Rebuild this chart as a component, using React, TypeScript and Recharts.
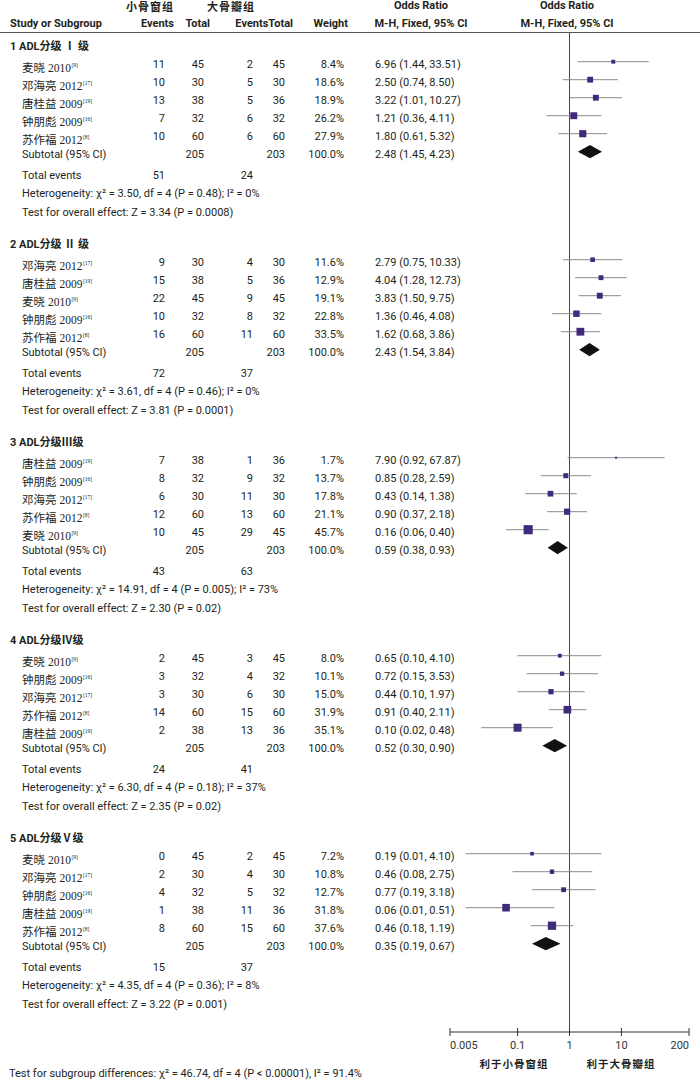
import React from "react";
import { ScatterChart, Scatter, XAxis, YAxis, ErrorBar, ReferenceLine, ReferenceArea } from "recharts";

// group titles
const GROUP_TITLES = ["1 ADL分级 Ⅰ 级", "2 ADL分级 Ⅱ 级", "3 ADL分级Ⅲ级", "4 ADL分级Ⅳ级", "5 ADL分级Ⅴ级"];

// studies, 5 per group, in plotted order
const STUDY_NAMES = [
  "麦晓", "邓海亮", "唐桂益", "钟朋彪", "苏作福",
  "邓海亮", "唐桂益", "麦晓", "钟朋彪", "苏作福",
  "唐桂益", "钟朋彪", "邓海亮", "苏作福", "麦晓",
  "麦晓", "钟朋彪", "邓海亮", "苏作福", "唐桂益",
  "麦晓", "邓海亮", "钟朋彪", "唐桂益", "苏作福",
];
const STUDY_YEARS = [
  2010, 2012, 2009, 2009, 2012,
  2012, 2009, 2010, 2009, 2012,
  2009, 2009, 2012, 2012, 2010,
  2010, 2009, 2012, 2012, 2009,
  2010, 2012, 2009, 2009, 2012,
];
const STUDY_REFS = [
  9, 17, 19, 16, 8,
  17, 19, 9, 16, 8,
  19, 16, 17, 8, 9,
  9, 16, 17, 8, 19,
  9, 17, 16, 19, 8,
];
const EXP_EVENTS = [11, 10, 13, 7, 10, 9, 15, 22, 10, 16, 7, 8, 6, 12, 10, 2, 3, 3, 14, 2, 0, 2, 4, 1, 8];
const EXP_TOTAL = [45, 30, 38, 32, 60, 30, 38, 45, 32, 60, 38, 32, 30, 60, 45, 45, 32, 30, 60, 38, 45, 30, 32, 38, 60];
const CTL_EVENTS = [2, 5, 5, 6, 6, 4, 5, 9, 8, 11, 1, 9, 11, 13, 29, 3, 4, 6, 15, 13, 2, 4, 5, 11, 15];
const CTL_TOTAL = [45, 30, 36, 32, 60, 30, 36, 45, 32, 60, 36, 32, 30, 60, 45, 45, 32, 30, 60, 36, 45, 30, 32, 36, 60];
const WEIGHTS = [8.4, 18.6, 18.9, 26.2, 27.9, 11.6, 12.9, 19.1, 22.8, 33.5, 1.7, 13.7, 17.8, 21.1, 45.7, 8.0, 10.1, 15.0, 31.9, 35.1, 7.2, 10.8, 12.7, 31.8, 37.6];
const ODDS = [6.96, 2.5, 3.22, 1.21, 1.8, 2.79, 4.04, 3.83, 1.36, 1.62, 7.9, 0.85, 0.43, 0.9, 0.16, 0.65, 0.72, 0.44, 0.91, 0.1, 0.19, 0.46, 0.77, 0.06, 0.46];
const CI_LOW = [1.44, 0.74, 1.01, 0.36, 0.61, 0.75, 1.28, 1.5, 0.46, 0.68, 0.92, 0.28, 0.14, 0.37, 0.06, 0.1, 0.15, 0.1, 0.4, 0.02, 0.01, 0.08, 0.19, 0.01, 0.18];
const CI_HIGH = [33.51, 8.5, 10.27, 4.11, 5.32, 10.33, 12.73, 9.75, 4.08, 3.86, 67.87, 2.59, 1.38, 2.18, 0.4, 4.1, 3.53, 1.97, 2.11, 0.48, 4.1, 2.75, 3.18, 0.51, 1.19];

// subtotals per group
const SUB_EXP_TOTAL = [205, 205, 205, 205, 205];
const SUB_CTL_TOTAL = [203, 203, 203, 203, 203];
const SUB_OR = [2.48, 2.43, 0.59, 0.52, 0.35];
const SUB_LOW = [1.45, 1.54, 0.38, 0.3, 0.19];
const SUB_HIGH = [4.23, 3.84, 0.93, 0.9, 0.67];
const TOTAL_EXP_EVENTS = [51, 72, 43, 24, 15];
const TOTAL_CTL_EVENTS = [24, 37, 63, 41, 37];
const HET_CHI = ["3.50", "3.61", "14.91", "6.30", "4.35"];
const HET_P = ["0.48", "0.46", "0.005", "0.18", "0.36"];
const HET_I2 = ["0%", "0%", "73%", "37%", "8%"];
const Z_VALUES = ["3.34", "3.81", "2.30", "2.35", "3.22"];
const Z_P = ["0.0008", "0.0001", "0.02", "0.02", "0.001"];

const X_TICKS = [0.005, 0.1, 1, 10, 200];
const X_TICK_LABELS = ["0.005", "0.1", "1", "10", "200"];

const W = 700;
const H = 1081;
const PLOT_LEFT = 450;
const PLOT_RIGHT = 689;
const PLOT_TOP = 33;
const AXIS_Y = 1032;
const LINE_H = 18;
const MARK_Y0 = 43.7; // pixel of line 0 for marks
const TEXT_SHIFT = 3.3; // text centre sits a little below the marks
const GROUP_SPAN = 11;
const TICK_SIZE = 4;
const TICK_MARGIN = 5;

const TEXT_COLOR = "#231f20";
const BOX_COLOR = "#3f2a7c";
const CI_COLOR = "#8a8a8a";
const NUM_FONT = '"Liberation Sans Narrow", Roboto, "Noto Sans", sans-serif';
const NAME_FONT = '"Liberation Serif", "Noto Sans CJK SC", serif';
const CJK_FONT = '"Noto Sans CJK SC", sans-serif';

const groupLine = (g: number) => g * GROUP_SPAN;
const studyLine = (i: number) => groupLine(Math.floor(i / 5)) + 1 + (i % 5);
const subLine = (g: number) => groupLine(g) + 6;
const textY = (line: number) => MARK_Y0 + TEXT_SHIFT + LINE_H * line;

const yMin = (PLOT_TOP - MARK_Y0) / LINE_H;
const yMax = (AXIS_Y - MARK_Y0) / LINE_H;

const studyData = STUDY_NAMES.map((_, i) => ({
  or: ODDS[i],
  y: studyLine(i),
  w: WEIGHTS[i],
  err: [ODDS[i] - CI_LOW[i], CI_HIGH[i] - ODDS[i]],
}));

const ci = (o: number, l: number, h: number) => `${o.toFixed(2)} (${l.toFixed(2)}, ${h.toFixed(2)})`;

type TProps = {
  x: number;
  y: number;
  anchor?: "start" | "end" | "middle";
  bold?: boolean;
  font?: string;
  size?: number;
  spacing?: number;
  children: React.ReactNode;
};

function T({ x, y, anchor = "start", bold, font = NUM_FONT, size = 11, spacing, children }: TProps) {
  const w = 300;
  const left = anchor === "start" ? x : anchor === "end" ? x - w : x - w / 2;
  return (
    <div
      style={{
        position: "absolute",
        left,
        top: y - 7,
        width: w,
        height: 14,
        lineHeight: "14px",
        fontFamily: font,
        fontSize: size,
        fontWeight: bold ? 700 : 400,
        letterSpacing: spacing,
        color: TEXT_COLOR,
        textAlign: anchor === "start" ? "left" : anchor === "end" ? "right" : "center",
        whiteSpace: "nowrap",
      }}
    >
      {children}
    </div>
  );
}

const AxisTick = (props: any) => {
  const { x, y, index } = props;
  const ay = y - TICK_SIZE - TICK_MARGIN;
  const anchor = index === 0 ? "start" : index === X_TICKS.length - 1 ? "end" : "middle";
  return (
    <g>
      <line x1={x} x2={x} y1={ay - 4} y2={ay + 4} stroke="#333" />
      <text x={x} y={y} dy="0.71em" textAnchor={anchor} fill="#333" fontSize={11} fontFamily="Roboto, sans-serif">
        {X_TICK_LABELS[index]}
      </text>
    </g>
  );
};

const Box = (props: any) => {
  const { cx, cy, payload } = props;
  const s = Math.max(2, 1.35 * Math.sqrt(payload.w));
  return <rect x={cx - s / 2} y={cy - s / 2} width={s} height={s} fill={BOX_COLOR} />;
};

const makeDiamond = (g: number) => (p: any) => {
  const { x, y, width, height } = p;
  const frac = (Math.log(SUB_OR[g]) - Math.log(SUB_LOW[g])) / (Math.log(SUB_HIGH[g]) - Math.log(SUB_LOW[g]));
  const cx = x + width * frac;
  const my = y + height / 2;
  return <polygon points={`${x},${my} ${cx},${y} ${x + width},${my} ${cx},${y + height}`} fill="#111" />;
};

export default function App() {
  return (
    <div style={{ position: "relative", width: W, height: H, background: "#fff" }}>
      <style>{`body{margin:0}`}</style>
      <ScatterChart
        width={W}
        height={H}
        margin={{ top: PLOT_TOP, right: W - PLOT_RIGHT, left: PLOT_LEFT, bottom: H - AXIS_Y - 30 }}
      >
        <XAxis
          type="number"
          dataKey="or"
          scale="log"
          domain={[0.005, 200]}
          ticks={X_TICKS}
          interval={0}
          allowDataOverflow
          height={30}
          axisLine={{ stroke: "#333" }}
          tickLine={false}
          tickSize={TICK_SIZE}
          tickMargin={TICK_MARGIN}
          tick={<AxisTick />}
        />
        <YAxis type="number" dataKey="y" domain={[yMin, yMax]} reversed allowDataOverflow hide />
        <ReferenceLine x={1} stroke="#444" ifOverflow="visible" />
        {SUB_OR.map((_, g) => (
          <ReferenceArea
            key={g}
            x1={SUB_LOW[g]}
            x2={SUB_HIGH[g]}
            y1={subLine(g) - 0.37}
            y2={subLine(g) + 0.37}
            ifOverflow="visible"
            shape={makeDiamond(g)}
          />
        ))}
        <Scatter data={studyData} shape={<Box />} isAnimationActive={false}>
          <ErrorBar dataKey="err" direction="x" width={0} stroke={CI_COLOR} strokeWidth={1} />
        </Scatter>
      </ScatterChart>

      {/* header */}
      <T x={150} y={6} anchor="middle" bold font={CJK_FONT} spacing={1}>小骨窗组</T>
      <T x={231} y={6} anchor="middle" bold font={CJK_FONT} spacing={1}>大骨瓣组</T>
      <T x={421} y={6} anchor="middle" bold>Odds Ratio</T>
      <T x={567} y={6} anchor="middle" bold>Odds Ratio</T>
      <T x={10} y={24} bold>Study or Subgroup</T>
      <T x={174} y={24} anchor="end" bold>Events</T>
      <T x={210} y={24} anchor="end" bold>Total</T>
      <T x={293} y={24} anchor="end" bold>EventsTotal</T>
      <T x={348} y={24} anchor="end" bold>Weight</T>
      <T x={421} y={24} anchor="middle" bold>M-H, Fixed, 95% CI</T>
      <T x={567} y={24} anchor="middle" bold>M-H, Fixed, 95% CI</T>
      <div style={{ position: "absolute", left: 0, top: 32, width: W, height: 1, background: "#555" }} />

      {GROUP_TITLES.map((title, g) => (
        <React.Fragment key={g}>
          <T x={10} y={textY(groupLine(g))} bold font={'"Liberation Sans Narrow", Roboto, "Noto Sans CJK SC", sans-serif'}>
            {title}
          </T>
          <T x={22} y={textY(subLine(g))}>Subtotal (95% CI)</T>
          <T x={204} y={textY(subLine(g))} anchor="end">{SUB_EXP_TOTAL[g]}</T>
          <T x={285} y={textY(subLine(g))} anchor="end">{SUB_CTL_TOTAL[g]}</T>
          <T x={344} y={textY(subLine(g))} anchor="end">100.0%</T>
          <T x={375} y={textY(subLine(g))}>{ci(SUB_OR[g], SUB_LOW[g], SUB_HIGH[g])}</T>
          <T x={22} y={textY(groupLine(g) + 7.17)}>Total events</T>
          <T x={165} y={textY(groupLine(g) + 7.17)} anchor="end">{TOTAL_EXP_EVENTS[g]}</T>
          <T x={253} y={textY(groupLine(g) + 7.17)} anchor="end">{TOTAL_CTL_EVENTS[g]}</T>
          <T x={22} y={textY(groupLine(g) + 8.17)}>
            Heterogeneity: χ² = {HET_CHI[g]}, df = 4 (P = {HET_P[g]}); I² = {HET_I2[g]}
          </T>
          <T x={22} y={textY(groupLine(g) + 9.2)}>
            Test for overall effect: Z = {Z_VALUES[g]} (P = {Z_P[g]})
          </T>
        </React.Fragment>
      ))}

      {STUDY_NAMES.map((name, i) => {
        const y = textY(studyLine(i));
        return (
          <React.Fragment key={i}>
            <T x={22} y={y} font={NAME_FONT} size={11.5}>
              {name} {STUDY_YEARS[i]}
              <sup style={{ fontSize: 5.5, verticalAlign: 5, marginLeft: 0.5 }}>[{STUDY_REFS[i]}]</sup>
            </T>
            <T x={165} y={y} anchor="end">{EXP_EVENTS[i]}</T>
            <T x={204} y={y} anchor="end">{EXP_TOTAL[i]}</T>
            <T x={253} y={y} anchor="end">{CTL_EVENTS[i]}</T>
            <T x={285} y={y} anchor="end">{CTL_TOTAL[i]}</T>
            <T x={344} y={y} anchor="end">{WEIGHTS[i].toFixed(1)}%</T>
            <T x={375} y={y}>{ci(ODDS[i], CI_LOW[i], CI_HIGH[i])}</T>
          </React.Fragment>
        );
      })}

      {/* favours labels */}
      <T x={514} y={1064} anchor="middle" bold font={CJK_FONT} size={10.5} spacing={1}>利于小骨窗组</T>
      <T x={621} y={1064} anchor="middle" bold font={CJK_FONT} size={10.5} spacing={1}>利于大骨瓣组</T>
      <T x={9} y={1074}>
        Test for subgroup differences: χ² = 46.74, df = 4 (P &lt; 0.00001), I² = 91.4%
      </T>
    </div>
  );
}
